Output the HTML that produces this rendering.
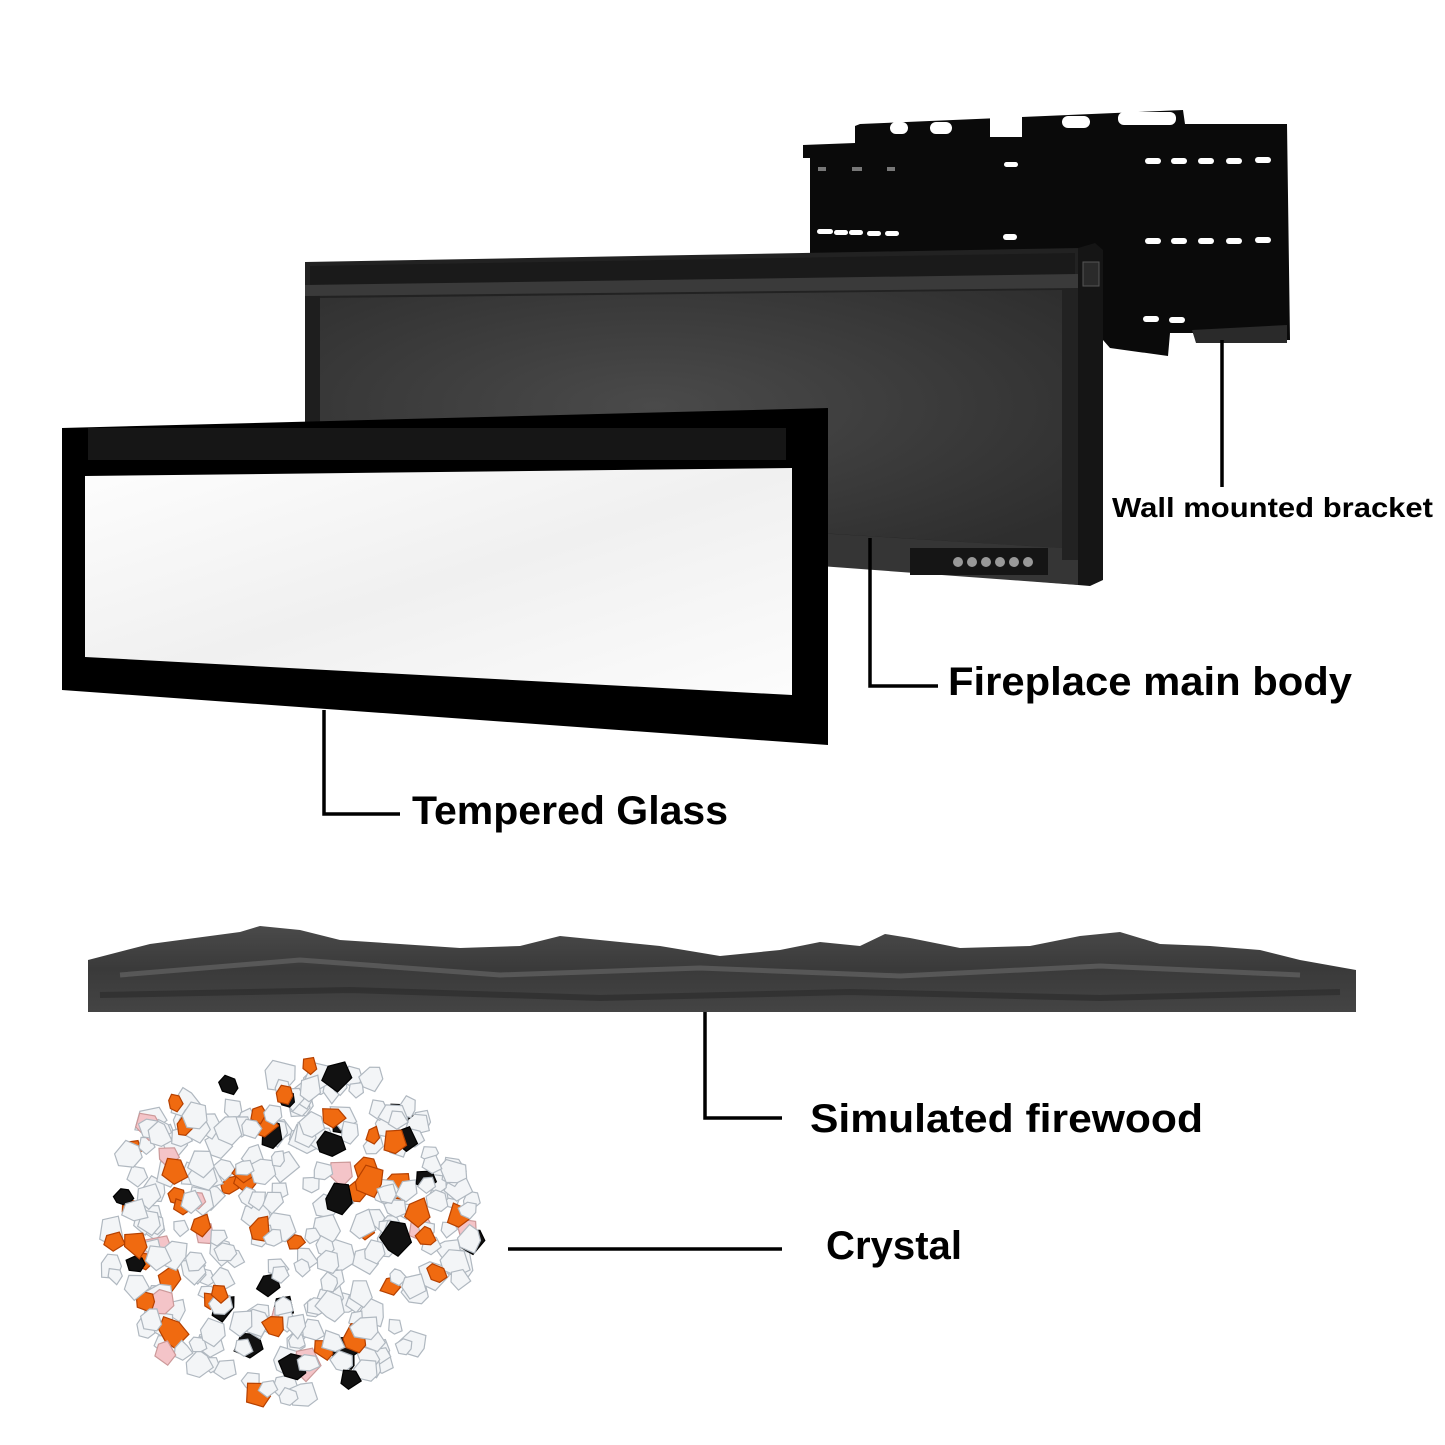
<!DOCTYPE html>
<html><head><meta charset="utf-8">
<style>
html,body{margin:0;padding:0;background:#fff;}
svg{display:block}
text{font-family:"Liberation Sans",sans-serif;font-weight:bold;fill:#000}
</style></head>
<body>
<svg id="s" width="1445" height="1445" viewBox="0 0 1445 1445" xmlns="http://www.w3.org/2000/svg">
<defs>
<radialGradient id="body" cx="0.45" cy="0.45" r="0.7">
<stop offset="0" stop-color="#4a4a4a"/><stop offset="1" stop-color="#2e2e2e"/>
</radialGradient>
<linearGradient id="glass" x1="0" y1="0" x2="1" y2="1">
<stop offset="0" stop-color="#fdfdfd"/><stop offset="0.5" stop-color="#f0f0f0"/><stop offset="1" stop-color="#fcfcfc"/>
</linearGradient>
<linearGradient id="wood" x1="0" y1="0" x2="0" y2="1">
<stop offset="0" stop-color="#4a4a4a"/><stop offset="0.5" stop-color="#3a3a3a"/><stop offset="1" stop-color="#444"/>
</linearGradient>
</defs>

<!-- bracket -->
<path d="M855,126 L860,124 L1183,110 L1185,124 L1287,124 L1290,340 L1196,340 L1193,333 L1170,333 L1168,356 L1110,348 L1103,340 L810,340 L810,158 L803,158 L803,145 L855,143 Z" fill="#0a0a0a"/>
<g fill="#fff">
<rect x="890" y="122" width="18" height="12" rx="6"/><rect x="930" y="122" width="22" height="12" rx="6"/>
<rect x="990" y="117" width="32" height="20"/>
<rect x="1062" y="116" width="28" height="12" rx="6"/><rect x="1118" y="112" width="58" height="13" rx="6"/>
<g id="row"><rect x="1145" y="158" width="16" height="6" rx="3"/><rect x="1171" y="158" width="16" height="6" rx="3"/><rect x="1198" y="158" width="16" height="6" rx="3"/><rect x="1226" y="158" width="16" height="6" rx="3"/><rect x="1255" y="157" width="16" height="6" rx="3"/></g>
<use href="#row" y="80"/>
<rect x="1143" y="316" width="16" height="6" rx="3"/><rect x="1169" y="317" width="16" height="6" rx="3"/>
<rect x="1004" y="162" width="14" height="5" rx="2.5"/><rect x="1003" y="234" width="14" height="6" rx="3"/>
<rect x="817" y="229" width="16" height="5" rx="2.5"/><rect x="834" y="230" width="14" height="5" rx="2.5"/><rect x="849" y="230" width="14" height="5" rx="2.5"/><rect x="867" y="231" width="14" height="5" rx="2.5"/><rect x="885" y="231" width="14" height="5" rx="2.5"/>
</g>
<g fill="#777"><rect x="818" y="167" width="8" height="4"/><rect x="852" y="167" width="10" height="4"/><rect x="887" y="167" width="8" height="4"/></g>
<path d="M1192,330 L1287,325 L1287,343 L1196,343 Z" fill="#2a2a2a"/>

<!-- main body -->
<path d="M305,262 L1080,248 L1080,585 L305,525 Z" fill="#222"/>
<path d="M1078,248 L1095,243 L1103,250 L1103,580 L1090,586 L1078,585 Z" fill="#151515"/>
<rect x="1083" y="262" width="16" height="24" fill="#2a2a2a" stroke="#555" stroke-width="1"/>
<path d="M310,266 L1075,253 L1075,280 L310,285 Z" fill="#1a1a1a"/>
<path d="M305,285 L1078,274 L1078,288 L305,296 Z" fill="#3a3a3a"/>
<path d="M320,298 L1062,290 L1062,548 L320,502 Z" fill="url(#body)"/>
<rect x="305" y="296" width="15" height="230" fill="#1e1e1e"/>
<path d="M305,502 L1062,548 L1062,560 L1078,560 L1078,585 L305,528 Z" fill="#353535"/>
<rect x="910" y="548" width="138" height="27" fill="#151515"/>
<g fill="#999"><circle cx="958" cy="562" r="5"/><circle cx="972" cy="562" r="5"/><circle cx="986" cy="562" r="5"/><circle cx="1000" cy="562" r="5"/><circle cx="1014" cy="562" r="5"/><circle cx="1028" cy="562" r="5"/></g>

<!-- glass frame -->
<path d="M62,428 L828,408 L828,745 L62,690 Z" fill="#000"/>
<rect x="88" y="428" width="698" height="32" fill="#161616"/>
<path d="M85,476 L792,468 L792,695 L85,657 Z" fill="url(#glass)"/>

<!-- firewood -->
<path d="M88,960 L150,944 L240,932 L260,926 L300,930 L340,940 L400,944 L460,948 L520,946 L560,936 L600,940 L660,946 L720,956 L780,950 L820,942 L860,946 L885,934 L910,938 L960,948 L1030,946 L1080,936 L1120,932 L1160,944 L1210,946 L1260,950 L1300,960 L1356,970 L1356,1012 L88,1012 Z" fill="url(#wood)"/>
<path d="M120,975 L300,960 L500,975 L700,968 L900,976 L1100,966 L1300,975" stroke="#6a6a6a" stroke-width="5" fill="none" opacity="0.6"/>
<path d="M100,995 L350,990 L600,998 L850,992 L1100,998 L1340,992" stroke="#2c2c2c" stroke-width="6" fill="none" opacity="0.7"/>

<!-- crystals -->
<g id="cr"></g>

<!-- leader lines -->
<g stroke="#000" stroke-width="3.5" fill="none">
<polyline points="1222,340 1222,487"/>
<polyline points="870,538 870,686 938,686"/>
<polyline points="324,710 324,814 400,814"/>
<polyline points="705,1012 705,1118 782,1118"/>
<polyline points="508,1249 782,1249"/>
</g>

<text x="1112" y="517" font-size="28" textLength="321" lengthAdjust="spacingAndGlyphs">Wall mounted bracket</text>
<text x="948" y="695" font-size="40" textLength="404" lengthAdjust="spacingAndGlyphs">Fireplace main body</text>
<text x="412" y="824" font-size="40" textLength="316" lengthAdjust="spacingAndGlyphs">Tempered Glass</text>
<text x="810" y="1132" font-size="40" textLength="393" lengthAdjust="spacingAndGlyphs">Simulated firewood</text>
<text x="826" y="1259" font-size="40" textLength="136" lengthAdjust="spacingAndGlyphs">Crystal</text>
</svg>
<script>
(function(){
var g=document.getElementById('cr');
var seed=7;function r(){seed=(seed*16807)%2147483647;return seed/2147483647;}
var html='';
for(var i=0;i<300;i++){
 var a=r()*Math.PI*2, d=Math.sqrt(r());
 var cx=290+Math.cos(a)*d*185, cy=1228+Math.sin(a)*d*170;
 var t=r(), col, st;
 if(t<0.14){col='#f06a10';st='#b54000';}else if(t<0.24){col='#111';st='#000';}else if(t<0.30){col='#f4c4c8';st='#c99';}else{col='#f3f5f7';st='#b0b8c0';}
 var s=9+r()*8, pts=[];
 var n=5+Math.floor(r()*2);
 for(var k=0;k<n;k++){var aa=k/n*Math.PI*2+r()*0.5;var rr=s*(0.7+r()*0.4);pts.push((cx+Math.cos(aa)*rr).toFixed(1)+','+(cy+Math.sin(aa)*rr).toFixed(1));}
 html+='<polygon points="'+pts.join(' ')+'" fill="'+col+'" stroke="'+st+'" stroke-width="1.2"/>';
}
g.innerHTML=html;
})();
</script>
</body></html>
